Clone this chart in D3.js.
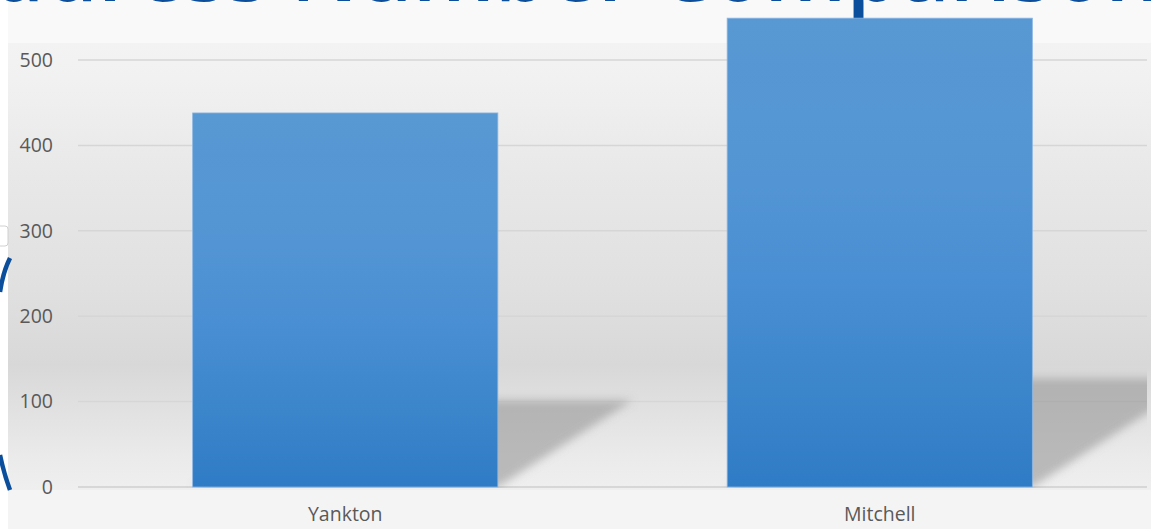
<!DOCTYPE html>
<html>
<head>
<meta charset="utf-8">
<script src="https://cdn.jsdelivr.net/npm/d3@7"></script>
<style>
  html, body { margin: 0; padding: 0; background: #ffffff; }
  svg { display: block; }
</style>
</head>
<body>
<svg id="chart" width="1151" height="529"></svg>
<script>
// Data
const categories = ["Yankton", "Mitchell"];
const values = [438, 549];
const yTicks = [0, 100, 200, 300, 400, 500];
const titleText = "Address Number Comparison";

const W = 1151, H = 529;
const svg = d3.select("#chart");
const defs = svg.append("defs");

// Plot geometry
const plot = { left: 78, right: 1147, top: 43, bottom: 487 };

const x = d3.scaleBand()
  .domain(categories)
  .range([plot.left, plot.right])
  .paddingInner(0.429)
  .paddingOuter(0.2145);

const y = d3.scaleLinear()
  .domain([0, 500])
  .range([plot.bottom, plot.bottom - 427]);

// Backdrop panel
svg.append("rect").attr("x", 0).attr("y", 0).attr("width", W).attr("height", H).attr("fill", "#ffffff");
svg.append("rect").attr("x", 8).attr("y", 0).attr("width", W - 8).attr("height", H).attr("fill", "#f4f4f4");
svg.append("rect").attr("x", 8).attr("y", 0).attr("width", W - 8).attr("height", 43).attr("fill", "#f9f9f9");

// Plot-area gradient
const bg = defs.append("linearGradient").attr("id", "bgGrad")
  .attr("x1", 0).attr("y1", 0).attr("x2", 0).attr("y2", 1);
[
  [0.00, "#f3f3f3"], [0.08, "#f1f1f1"], [0.30, "#e8e8e8"],
  [0.55, "#e0e0e0"], [0.72, "#d8d8d8"], [0.82, "#e1e1e1"],
  [0.92, "#eaeaea"], [1.00, "#efefef"]
].forEach(([o, c]) => bg.append("stop").attr("offset", o).attr("stop-color", c));
svg.append("rect")
  .attr("x", 8).attr("y", plot.top)
  .attr("width", W - 8).attr("height", plot.bottom + 3 - plot.top)
  .attr("fill", "url(#bgGrad)");

// Title (runs off the top edge)
svg.append("text")
  .attr("x", 547).attr("y", 1)
  .attr("text-anchor", "middle")
  .attr("dominant-baseline", "alphabetic")
  .attr("font-family", "Open Sans, sans-serif")
  .attr("font-weight", 600)
  .attr("font-size", 86)
  .attr("fill", "#0b4f9c")
  .text(titleText);

// Decorative strokes at the left edge
const deco = svg.append("g").attr("fill", "none").attr("stroke", "#0b4f9c").attr("stroke-width", 4.5);
deco.append("path").attr("d", "M10,258 Q3,272 0,292");
deco.append("path").attr("d", "M0,455 Q4,474 10,490");
svg.append("rect").attr("x", -4).attr("y", 226).attr("width", 12).attr("height", 20)
  .attr("rx", 3).attr("fill", "#ffffff").attr("stroke", "#d0d0d0");

// Gridlines
svg.append("g")
  .selectAll("line")
  .data(yTicks)
  .join("line")
  .attr("x1", plot.left).attr("x2", plot.right)
  .attr("y1", d => y(d)).attr("y2", d => y(d))
  .attr("stroke", d => d === 0 ? "#cfcfcf" : "#d6d6d6")
  .attr("stroke-width", 1.5);

// Y axis labels
const yAxis = d3.axisLeft(y).tickValues(yTicks).tickSize(0).tickPadding(0);
const yg = svg.append("g").attr("transform", `translate(53,0)`).call(yAxis);
yg.select(".domain").remove();
yg.selectAll("text")
  .attr("font-family", "Open Sans, sans-serif")
  .attr("font-size", 19.5)
  .attr("fill", "#595959");

// X axis labels
const xAxis = d3.axisBottom(x).tickSize(0).tickPadding(0);
const xg = svg.append("g").attr("transform", `translate(0,507)`).call(xAxis);
xg.select(".domain").remove();
xg.selectAll("text")
  .attr("font-family", "Open Sans, sans-serif")
  .attr("font-size", 19.5)
  .attr("fill", "#595959");

// Perspective shadows cast behind the bars
defs.append("filter").attr("id", "shadowBlur")
  .attr("x", "-20%").attr("y", "-20%").attr("width", "140%").attr("height", "140%")
  .append("feGaussianBlur").attr("stdDeviation", 4);
defs.append("clipPath").attr("id", "plotClip")
  .append("rect").attr("x", plot.left).attr("y", 0)
  .attr("width", plot.right - plot.left).attr("height", plot.bottom + 1);

svg.append("g")
  .attr("clip-path", "url(#plotClip)")
  .append("g")
  .attr("filter", "url(#shadowBlur)")
  .selectAll("path")
  .data(categories.map((c, i) => ({ c, v: values[i] })))
  .join("path")
  .attr("d", d => {
    const x0 = x(d.c), x1 = x(d.c) + x.bandwidth();
    const hPx = y(0) - y(d.v);
    const dx = hPx * 0.36, sh = hPx * 0.232;
    const b = y(0);
    return `M${x0},${b} L${x1},${b} L${x1 + dx},${b - sh} L${x0 + dx},${b - sh} Z`;
  })
  .attr("fill", "#8f8f8f")
  .attr("opacity", 0.55);

// Bar gradient
const bar = defs.append("linearGradient").attr("id", "barGrad")
  .attr("x1", 0).attr("y1", 0).attr("x2", 0).attr("y2", 1);
[
  [0.00, "#5898d3"], [0.35, "#5395d4"], [0.55, "#4a8fd3"],
  [0.80, "#3b85cb"], [1.00, "#2f7bc5"]
].forEach(([o, c]) => bar.append("stop").attr("offset", o).attr("stop-color", c));

svg.append("g")
  .selectAll("rect")
  .data(categories.map((c, i) => ({ c, v: values[i] })))
  .join("rect")
  .attr("x", d => x(d.c))
  .attr("y", d => y(d.v))
  .attr("width", x.bandwidth())
  .attr("height", d => y(0) - y(d.v))
  .attr("fill", "url(#barGrad)")
  .attr("stroke", "#8db6e2")
  .attr("stroke-width", 0.8);
</script>
</body>
</html>
